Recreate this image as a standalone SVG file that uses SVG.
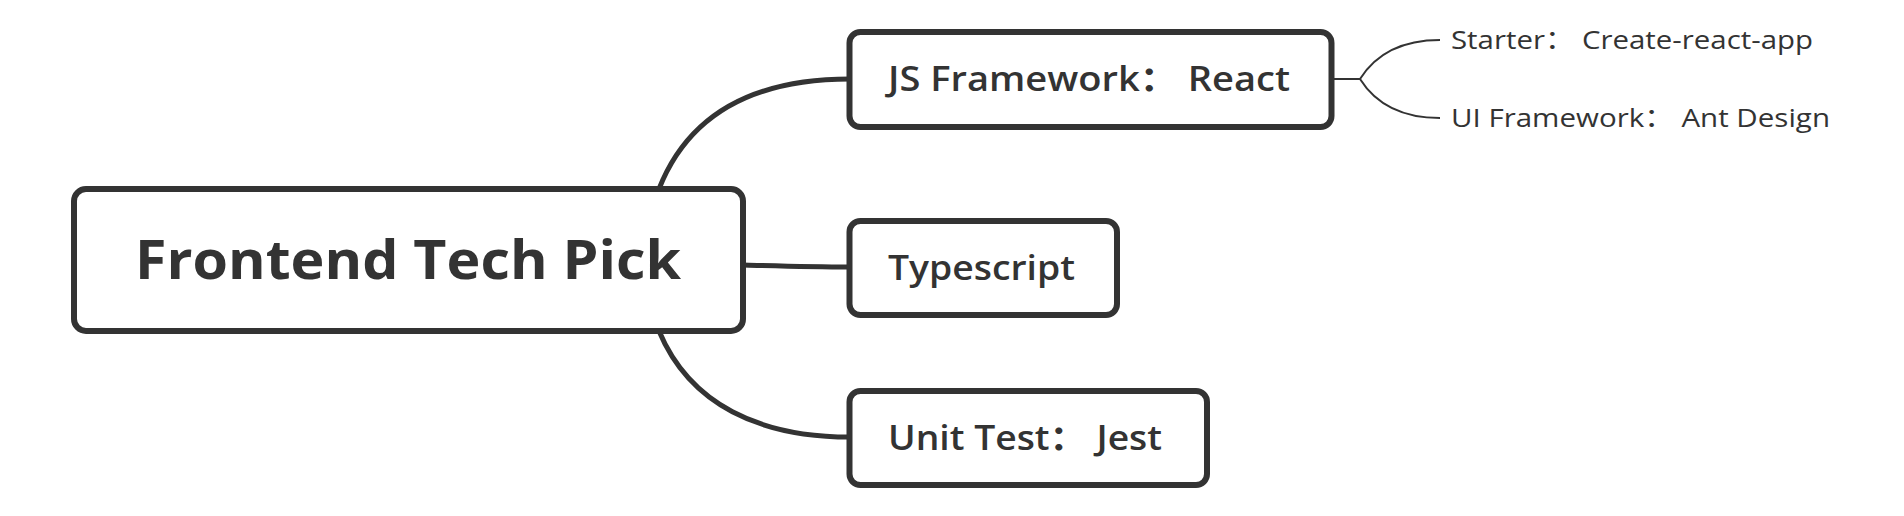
<svg xmlns="http://www.w3.org/2000/svg" width="1904" height="516" viewBox="0 0 1904 516">
<style>
.node{fill:#fff;stroke:#333;stroke-width:6}
.t{fill:#333;font-family:"Open Sans","Noto Sans CJK SC",sans-serif}
.root{font-size:54px;font-weight:700}
.main{font-size:34px;font-weight:600}
.sub{font-size:26px;font-weight:400}
.c{fill:none;stroke:#333;stroke-width:5}
.cs{fill:none;stroke:#333;stroke-width:2}
</style>
<rect width="1904" height="516" fill="#fff"/>
<g id="connectors">
<path class="c" d="M659 189 C690 110 760 79 850 79"/>
<path class="c" d="M743 265 C780 266 810 267 850 267"/>
<path class="c" d="M659 331 C690 405 760 437 850 437"/>
<path class="cs" d="M1332 79 H1360 C1372 60 1395 40 1440 40"/>
<path class="cs" d="M1360 79 C1372 98 1395 118 1440 118"/>
</g>
<g id="root">
<rect class="node" x="74" y="189" width="669" height="142" rx="12"/>
<text class="t root" x="135" y="279" textLength="546" lengthAdjust="spacingAndGlyphs">Frontend Tech Pick</text>
</g>
<g id="js-framework">
<rect class="node" x="849.5" y="32" width="482" height="95" rx="11"/>
<text class="t main" x="888" y="91" textLength="402" lengthAdjust="spacingAndGlyphs">JS Framework： React</text>
</g>
<g id="typescript">
<rect class="node" x="849.5" y="221" width="267.5" height="94" rx="11"/>
<text class="t main" x="888" y="280" textLength="187" lengthAdjust="spacingAndGlyphs">Typescript</text>
</g>
<g id="unit-test">
<rect class="node" x="849.5" y="391" width="357.5" height="94" rx="11"/>
<text class="t main" x="888" y="450" textLength="274" lengthAdjust="spacingAndGlyphs">Unit Test： Jest</text>
</g>
<g id="starter">
<text class="t sub" x="1451" y="49" textLength="362" lengthAdjust="spacingAndGlyphs">Starter： Create-react-app</text>
</g>
<g id="ui-framework">
<text class="t sub" x="1451" y="127" textLength="379" lengthAdjust="spacingAndGlyphs">UI Framework： Ant Design</text>
</g>
</svg>
